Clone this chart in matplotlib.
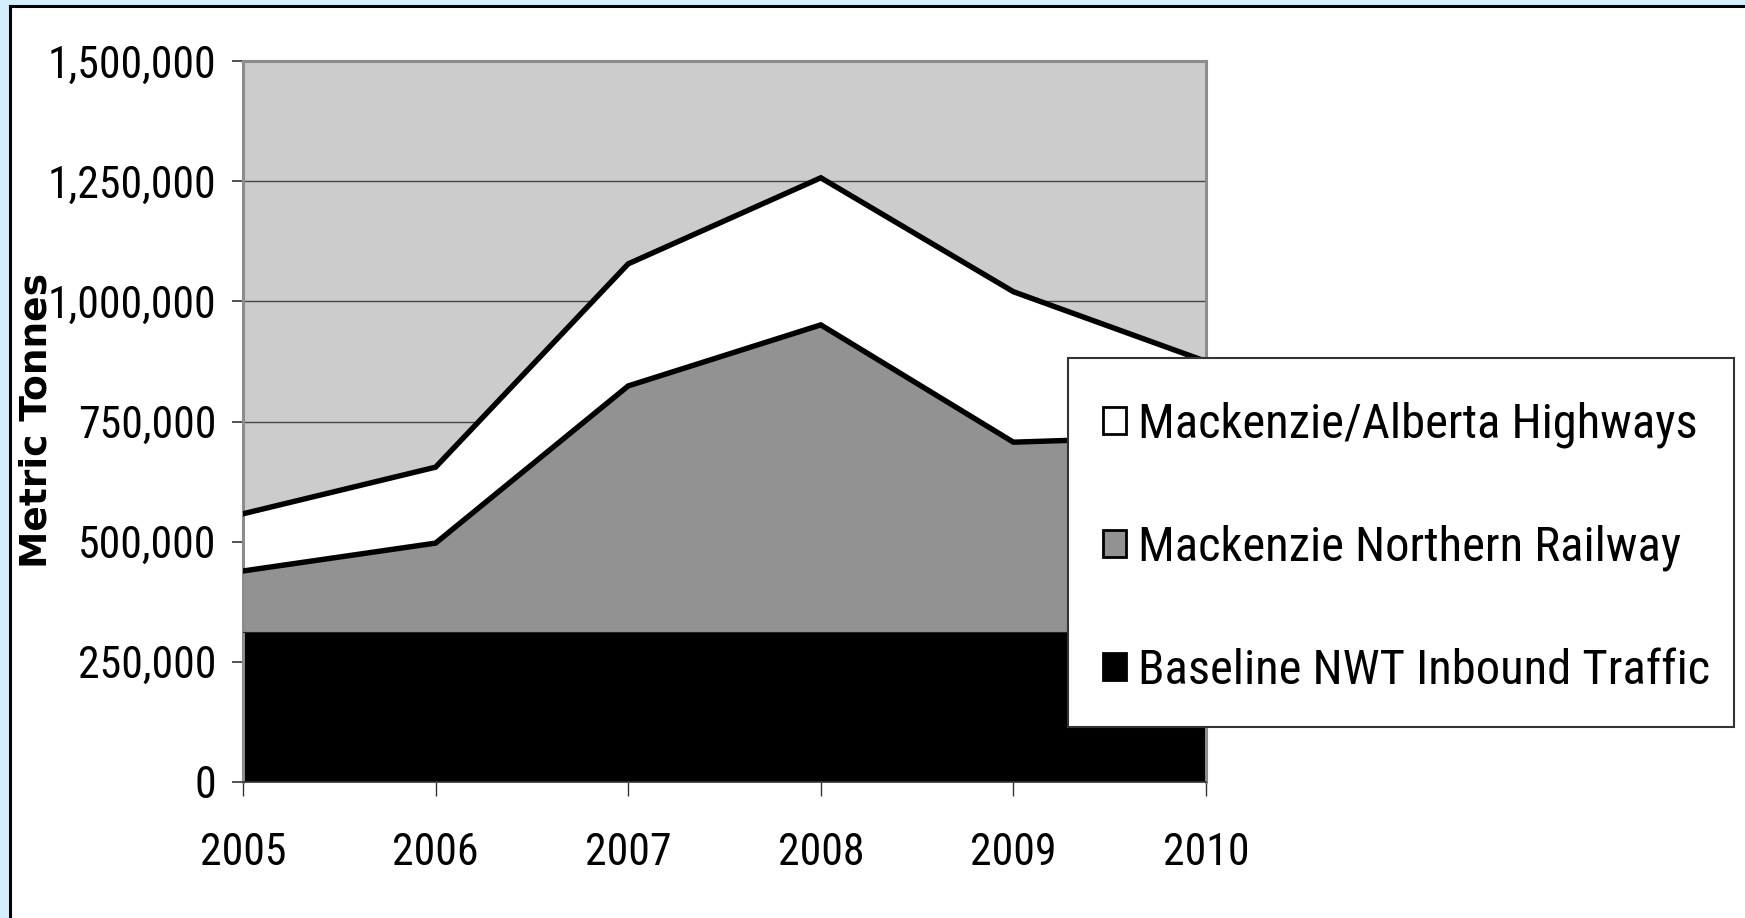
import matplotlib.pyplot as plt
from matplotlib.patches import Patch, Rectangle
from matplotlib.lines import Line2D
from matplotlib.ticker import FuncFormatter

years = [2005, 2006, 2007, 2008, 2009, 2010]
baseline = [312000, 312000, 312000, 312000, 312000, 312000]
railway = [127000, 185000, 512000, 639000, 395000, 408000]
highways = [119000, 158000, 254000, 306000, 313000, 155000]

labels = ['Mackenzie/Alberta Highways', 'Mackenzie Northern Railway',
          'Baseline NWT Inbound Traffic']
colors = ['#ffffff', '#929292', '#000000']

NARROW = ['Roboto Condensed', 'Liberation Sans', 'DejaVu Sans']

W, H = 1745, 918
fig = plt.figure(figsize=(W / 100, H / 100), dpi=100, facecolor='white')

# light blue page edge with black frame line (left and top only)
fig.patches.append(Rectangle((0, 0), 9 / W, 1, transform=fig.transFigure,
                             facecolor='#d5eefd', edgecolor='none', zorder=0))
fig.patches.append(Rectangle((0, 1 - 5 / H), 1, 5 / H, transform=fig.transFigure,
                             facecolor='#d5eefd', edgecolor='none', zorder=0))
fig.add_artist(Line2D([10 / W, 10 / W], [0, 1 - 6 / H], transform=fig.transFigure,
                      color='black', lw=2.2))
fig.add_artist(Line2D([10 / W, 1], [1 - 6 / H, 1 - 6 / H], transform=fig.transFigure,
                      color='black', lw=2.2))

ax = fig.add_axes([243 / W, 1 - 782 / H, (1206 - 243) / W, (782 - 61) / H])
ax.set_facecolor('#cccccc')

rail_top = [b + r for b, r in zip(baseline, railway)]
hw_top = [t + h for t, h in zip(rail_top, highways)]

ax.fill_between(years, 0, baseline, color=colors[2], lw=0, zorder=2)
ax.fill_between(years, baseline, rail_top, color=colors[1], lw=0, zorder=2)
ax.fill_between(years, rail_top, hw_top, color=colors[0], lw=0, zorder=2)
ax.plot(years, baseline, color='#222222', lw=0.8, zorder=3)
ax.plot(years, rail_top, color='black', lw=3.9, zorder=4, solid_joinstyle='miter')
ax.plot(years, hw_top, color='black', lw=3.9, zorder=4, solid_joinstyle='miter')

ax.set_xlim(2005, 2010)
ax.set_ylim(0, 1500000)
ax.set_xticks(years)
ax.set_yticks(range(0, 1500001, 250000))
ax.yaxis.set_major_formatter(FuncFormatter(lambda v, p: f'{int(v):,}'))
ax.grid(axis='y', color='#444444', lw=1.0)
ax.set_axisbelow(True)

for side in ['top', 'left', 'right']:
    ax.spines[side].set_color('#8c8c8c')
    ax.spines[side].set_linewidth(2.2)
ax.spines['bottom'].set_color('#333333')
ax.spines['bottom'].set_linewidth(1.2)

ax.tick_params(axis='y', direction='out', length=8, width=1.2, color='#333333',
               pad=11)
ax.tick_params(axis='x', direction='out', length=10, width=1.0, color='#333333',
               pad=26)
for lab in ax.get_xticklabels() + ax.get_yticklabels():
    lab.set_family(NARROW)
    lab.set_fontsize(31.5)

fig.text(37 / W, 1 - 421 / H, 'Metric Tonnes', rotation=90, ha='center',
         va='center', fontsize=27, fontweight='bold', family='DejaVu Sans')

# legend box drawn separately so its size matches the original
fig.patches.append(Rectangle((1068 / W, 1 - 727 / H), (1734 - 1068) / W,
                             (727 - 358) / H, transform=fig.transFigure,
                             facecolor='white', edgecolor='#333333', lw=1.5,
                             zorder=5))
handles = [Patch(facecolor=c, edgecolor='black', lw=2) for c in colors]
leg = fig.legend(handles, labels, loc='upper left',
                 bbox_to_anchor=(1068 / W, 1 - 367 / H),
                 bbox_transform=fig.transFigure,
                 prop={'family': NARROW, 'size': 35},
                 handlelength=0.48, handleheight=0.48, handletextpad=0.25,
                 labelspacing=1.57, borderpad=0.72, borderaxespad=0,
                 frameon=False)
leg.set_zorder(6)

fig.savefig('out.png', dpi=100, facecolor='white')
